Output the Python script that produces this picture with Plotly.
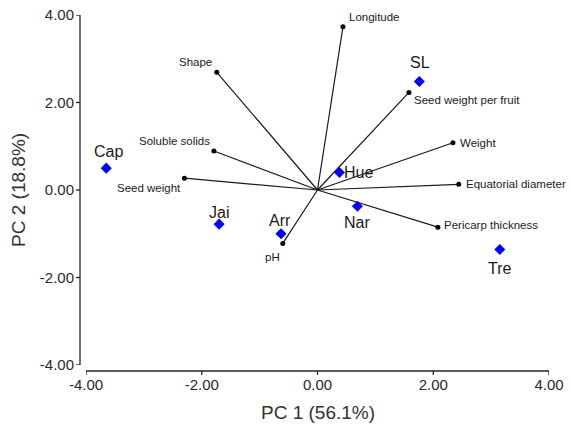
import plotly.graph_objects as go

# Observations (PCA scores)
obs_names = ["Cap", "SL", "Hue", "Nar", "Jai", "Arr", "Tre"]
obs_pc1 = [-3.65, 1.76, 0.38, 0.69, -1.70, -0.63, 3.15]
obs_pc2 = [0.50, 2.48, 0.40, -0.37, -0.78, -1.00, -1.36]

# Variables (loading vectors)
var_names = ["Longitude", "Shape", "Soluble solids", "Seed weight", "Seed weight per fruit",
             "Weight", "Equatorial diameter", "Pericarp thickness", "pH"]
var_pc1 = [0.44, -1.74, -1.79, -2.30, 1.58, 2.34, 2.44, 2.08, -0.60]
var_pc2 = [3.73, 2.69, 0.89, 0.27, 2.23, 1.08, 0.13, -0.85, -1.22]

tick_vals = [-4, -2, 0, 2, 4]
tick_text = ["-4.00", "-2.00", "0.00", "2.00", "4.00"]

# label placement (anchor, xshift, yshift) in pixels
var_label_pos = {
    "Longitude": ("left", 4, 10),
    "Shape": ("center", -21, 10),
    "Soluble solids": ("right", -2, 10),
    "Seed weight": ("right", -1, -10),
    "Seed weight per fruit": ("left", 3, -8),
    "Weight": ("left", 5, 0),
    "Equatorial diameter": ("left", 5, 0),
    "Pericarp thickness": ("left", 4, 2),
    "pH": ("center", -10, -14),
}
obs_label_pos = {
    "Cap": ("center", 2, 17),
    "SL": ("center", 1, 19),
    "Hue": ("left", 3, 0),
    "Nar": ("center", 0, -16),
    "Jai": ("center", 0, 12),
    "Arr": ("center", -1, 13),
    "Tre": ("center", 0, -19),
}

FONT = "Liberation Sans, Arial, sans-serif"

fig = go.Figure()

lx, ly = [], []
for x, y in zip(var_pc1, var_pc2):
    lx += [0, x, None]
    ly += [0, y, None]
fig.add_trace(go.Scatter(x=lx, y=ly, mode="lines",
                         line=dict(color="#1a1a1a", width=1.2),
                         hoverinfo="skip", showlegend=False))
fig.add_trace(go.Scatter(x=var_pc1, y=var_pc2, mode="markers",
                         marker=dict(color="#000000", size=5),
                         text=var_names, showlegend=False))
fig.add_trace(go.Scatter(x=obs_pc1, y=obs_pc2, mode="markers",
                         marker=dict(symbol="diamond", color="#0000ff", size=8.5),
                         text=obs_names, showlegend=False))

annotations = []
for n, x, y in zip(var_names, var_pc1, var_pc2):
    a, dx, dy = var_label_pos[n]
    annotations.append(dict(x=x, y=y, xref="x", yref="y", text=n, showarrow=False,
                            xanchor=a, yanchor="middle", xshift=dx, yshift=dy,
                            font=dict(family=FONT, size=11.5, color="#1a1a1a")))
for n, x, y in zip(obs_names, obs_pc1, obs_pc2):
    a, dx, dy = obs_label_pos[n]
    annotations.append(dict(x=x, y=y, xref="x", yref="y", text=n, showarrow=False,
                            xanchor=a, yanchor="middle", xshift=dx, yshift=dy,
                            font=dict(family=FONT, size=16, color="#1a1a1a")))

annotations.append(dict(x=0.5, y=-0.137, xref="paper", yref="paper", text="PC 1 (56.1%)",
                        showarrow=False, xanchor="center", yanchor="middle",
                        font=dict(family=FONT, size=19, color="#333333")))
annotations.append(dict(x=-0.147, y=0.5, xref="paper", yref="paper", text="PC 2 (18.8%)",
                        showarrow=False, xanchor="center", yanchor="middle", textangle=-90,
                        font=dict(family=FONT, size=19, color="#333333")))

# offset axis lines and tick marks
xoff = -6 / 463
yoff = -6 / 350
shapes = [
    dict(type="line", xref="x domain", yref="y domain", x0=xoff, x1=xoff, y0=0, y1=1,
         line=dict(color="#222222", width=1.3)),
    dict(type="line", xref="x domain", yref="y domain", x0=0, x1=1, y0=yoff, y1=yoff,
         line=dict(color="#222222", width=1.3)),
]
for v in tick_vals:
    shapes.append(dict(type="line", xref="x", yref="y domain", x0=v, x1=v,
                       y0=yoff, y1=yoff - 4 / 350, line=dict(color="#222222", width=1.3)))
    shapes.append(dict(type="line", xref="x domain", yref="y", x0=xoff, x1=xoff - 4 / 463,
                       y0=v, y1=v, line=dict(color="#222222", width=1.3)))

fig.update_layout(
    width=570, height=424,
    margin=dict(l=86, r=21, t=15, b=59),
    plot_bgcolor="white", paper_bgcolor="white",
    annotations=annotations, shapes=shapes,
    font=dict(family=FONT, color="#333333"),
    xaxis=dict(range=[-4, 4], tickvals=tick_vals, ticktext=tick_text, showgrid=False,
               zeroline=False, showline=False, ticks="outside", ticklen=6, automargin=False,
               tickcolor="rgba(0,0,0,0)", tickfont=dict(family=FONT, size=15, color="#2a2a2a")),
    yaxis=dict(range=[-4, 4], tickvals=tick_vals, ticktext=tick_text, showgrid=False,
               zeroline=False, showline=False, ticks="outside", ticklen=8, automargin=False,
               tickcolor="rgba(0,0,0,0)", tickfont=dict(family=FONT, size=15, color="#2a2a2a")),
)

fig.write_html("out.html", config={"displayModeBar": False},
               post_script="document.body.style.margin='0';document.body.style.overflow='hidden';")
